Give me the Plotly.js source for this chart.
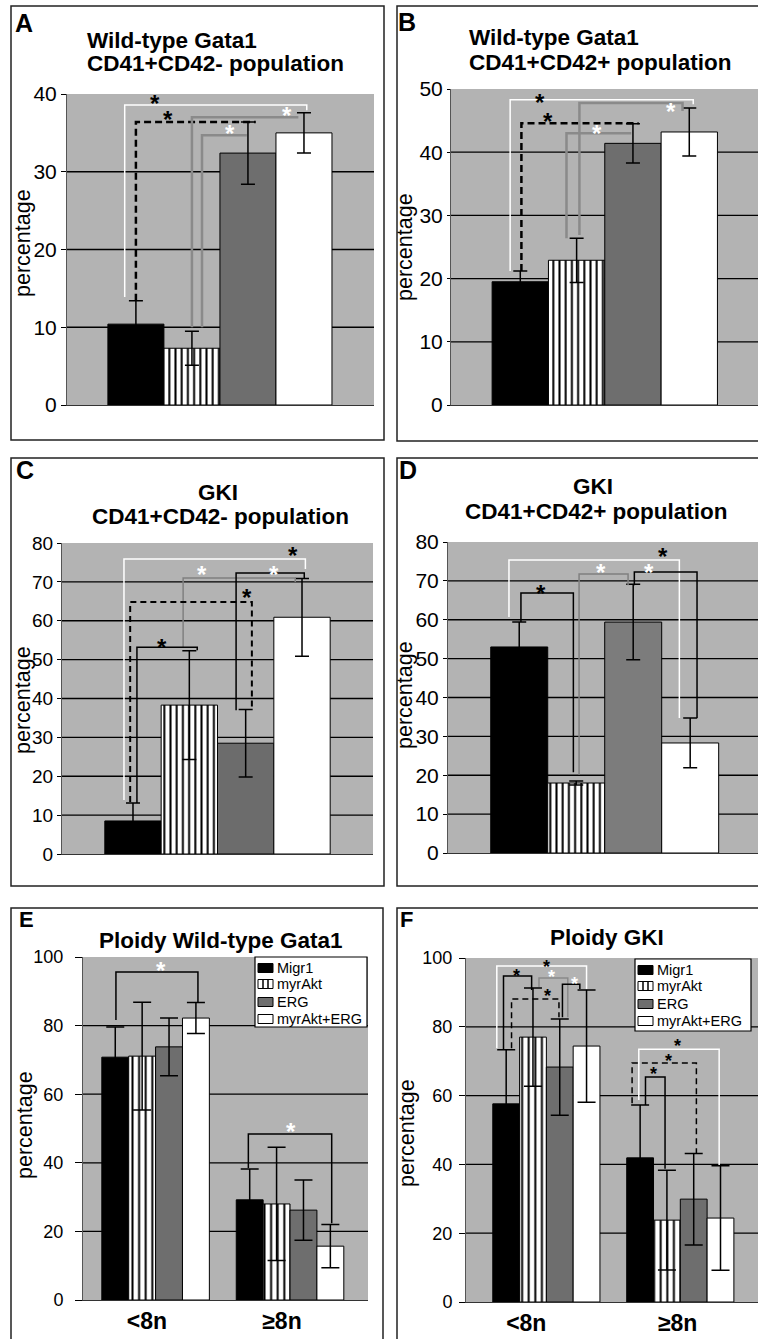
<!DOCTYPE html>
<html><head><meta charset="utf-8">
<script src="https://cdn.plot.ly/plotly-3.0.1.min.js"></script>
<style>html,body{margin:0;padding:0;background:#fff}#chart{width:758px;height:1339px}</style>
</head><body><div id="chart"></div>
<script>
const W = 758, H = 1339;

// ---------- data ----------
const categories = ['Migr1', 'myrAkt', 'ERG', 'myrAkt+ERG'];
const ploidyClasses = ['<8n', '≥8n'];

const wtNegValues = [10.4, 7.3, 32.4, 35.0];
const wtNegErrors = [3.0, 2.2, 4.0, 2.6];
const wtPosValues = [19.5, 22.9, 41.4, 43.2];
const wtPosErrors = [1.7, 3.5, 3.1, 3.8];
const gkiNegValues = [8.5, 38.3, 28.5, 60.9];
const gkiNegErrors = [4.6, 14.0, 8.7, 10.0];
const gkiPosValues = [53.0, 18.0, 59.4, 28.3];
const gkiPosErrors = [6.4, 0.5, 9.7, 6.4];

// ploidy, one row per series: [<8n, ≥8n]
const wtPloidyValues = [[70.8, 29.2], [71.1, 28.0], [73.8, 26.2], [82.2, 15.7]];
const wtPloidyErrors = [[8.8, 9.0], [15.7, 16.5], [8.4, 8.8], [4.5, 6.3]];
const gkiPloidyValues = [[57.6, 41.9], [77.0, 23.8], [68.3, 29.9], [74.4, 24.4]];
const gkiPloidyErrors = [[15.7, 15.4], [14.3, 14.5], [14.0, 13.3], [16.3, 15.2]];

// ---------- styles ----------
const patterns = ['', '|', '', ''];
function fillsFor(gray) { return ['#000000', '#ffffff', gray, '#ffffff']; }
const FONT = 'Liberation Sans, Arial, Helvetica, sans-serif';

const px = v => v / W;
const py = v => 1 - v / H;
const axn = (t, i) => i === 1 ? t : t + i;

const panels = [
  {ax: 1, x: [67, 374], y: [94, 405], xr: [-1.23, 4.25], ymax: 40, dtick: 10, tfs: 21, tlen: 5, tso: 0},
  {ax: 2, x: [451, 758], y: [89, 405], xr: [-1.23, 4.22], ymax: 50, dtick: 10, tfs: 21, tlen: 3, tso: 0},
  {ax: 3, x: [62, 373], y: [543, 854], xr: [-1.26, 4.26], ymax: 80, dtick: 10, tfs: 19, tlen: 4, tso: 0},
  {ax: 4, x: [448, 758], y: [542, 853], xr: [-1.25, 4.19], ymax: 80, dtick: 10, tfs: 21, tlen: 4, tso: 0},
  {ax: 5, x: [83, 368], y: [957, 1300], xr: [-0.54, 1.58], ymax: 100, dtick: 20, tfs: 18, tlen: 7, tso: 8},
  {ax: 6, x: [466, 758], y: [958, 1302], xr: [-0.60, 1.58], ymax: 100, dtick: 20, tfs: 18, tlen: 6, tso: 3}
];

const traces = [];
// panels A-D: one bar per construct, each drawn as its own trace so the stripe pattern is a plain value
function singlePanel(vals, errs, ax, gray) {
  const fills = fillsFor(gray);
  categories.forEach((c, i) => {
    traces.push({
      type: 'bar', name: c, x: [i], y: [vals[i]], width: 1, offset: -0.5,
      xaxis: axn('x', ax), yaxis: axn('y', ax), hoverinfo: 'skip', showlegend: false,
      marker: {color: fills[i], line: {color: '#000', width: 1},
        pattern: {shape: patterns[i], fgcolor: '#000', bgcolor: '#fff', size: 6.2, solidity: 0.32}},
      error_y: {type: 'data', array: [errs[i]], visible: true, color: '#000', thickness: 1.5, width: 7}
    });
  });
}
singlePanel(wtNegValues, wtNegErrors, 1, '#6e6e6e');
singlePanel(wtPosValues, wtPosErrors, 2, '#6e6e6e');
singlePanel(gkiNegValues, gkiNegErrors, 3, '#6c6c6c');
singlePanel(gkiPosValues, gkiPosErrors, 4, '#7c7c7c');

function ploidyTraces(vals, errs, ax) {
  const fills = fillsFor('#6e6e6e');
  categories.forEach((c, s) => {
    traces.push({
      type: 'bar', name: c, x: ploidyClasses.map((p, i) => i), y: vals[s],
      xaxis: axn('x', ax), yaxis: axn('y', ax), hoverinfo: 'skip', showlegend: false,
      marker: {color: fills[s], line: {color: '#000', width: 1},
        pattern: {shape: patterns[s], fgcolor: '#000', bgcolor: '#fff', size: 6.6, solidity: 0.3}},
      error_y: {type: 'data', array: errs[s], visible: true, color: '#000', thickness: 1.5, width: 9}
    });
  });
}
ploidyTraces(wtPloidyValues, wtPloidyErrors, 5);
ploidyTraces(gkiPloidyValues, gkiPloidyErrors, 6);

const layout = {
  width: W, height: H, margin: {l: 0, r: 0, t: 0, b: 0},
  paper_bgcolor: '#ffffff', plot_bgcolor: '#b3b3b3',
  barmode: 'group', bargap: 0.2, bargroupgap: 0, showlegend: false,
  font: {family: FONT, color: '#000'},
  shapes: [], annotations: []
};

const ploidyTickShift = {5: [-0.065, -0.06], 6: [-0.15, -0.02]};

panels.forEach(p => {
  const xa = {
    domain: [px(p.x[0]), px(p.x[1])], range: p.xr, anchor: axn('y', p.ax),
    showgrid: false, zeroline: false, showline: true, linecolor: '#333', linewidth: 1,
    fixedrange: true
  };
  if (p.ax >= 5) {
    const sh = ploidyTickShift[p.ax];
    xa.tickmode = 'array';
    xa.tickvals = ploidyClasses.map((c, i) => i + sh[i]);
    xa.ticktext = ploidyClasses;
    xa.ticks = '';
    xa.tickfont = {size: 23, weight: 'bold', family: FONT, color: '#000'};
    xa.ticklabelstandoff = 0;
  } else {
    xa.showticklabels = false; xa.ticks = '';
  }
  const ya = {
    domain: [py(p.y[1]), py(p.y[0])], range: [0, p.ymax], anchor: axn('x', p.ax),
    tick0: 0, dtick: p.dtick, ticks: 'outside', ticklen: p.tlen, tickwidth: 1, tickcolor: '#000',
    tickfont: {size: p.tfs, family: FONT, color: '#000'}, ticklabelstandoff: p.tso,
    showgrid: false, zeroline: false, showline: true, linecolor: '#555', linewidth: 1, fixedrange: true
  };
  layout[axn('xaxis', p.ax)] = xa;
  layout[axn('yaxis', p.ax)] = ya;
  // horizontal grid lines (behind bars)
  for (let v = p.dtick; v < p.ymax - 1e-9; v += p.dtick) {
    layout.shapes.push({type: 'line', layer: 'below', xref: axn('x', p.ax) + ' domain', yref: axn('y', p.ax),
      x0: 0, x1: 1, y0: v, y1: v, line: {color: '#000', width: 1.3}});
  }
});

// ---------- significance brackets [xL, yL, yTop, xR, yR, color, width, dash] ----------
const brackets = {
  1: [[-0.20, 13.9, 38.6, 3.05, 37.9, '#ffffff', 1.5, 'solid'],
      [0.0, 13.4, 36.4, 2.14, 36.4, '#000000', 2.5, '7px,4px'],
      [1.0, 10.0, 37.0, 2.9, 37.0, '#8a8a8a', 2.5, 'solid'],
      [1.18, 10.0, 34.7, 1.98, 34.7, '#8a8a8a', 2.5, 'solid']],
  2: [[-0.18, 21.2, 48.3, 3.07, 47.6, '#ffffff', 1.5, 'solid'],
      [0.02, 21.2, 44.6, 2.1, 44.6, '#000000', 2.5, '7px,4px'],
      [1.05, 26.9, 47.8, 2.88, 46.5, '#8a8a8a', 2.5, 'solid'],
      [0.82, 26.4, 43.0, 1.97, 43.0, '#8a8a8a', 2.5, 'solid']],
  3: [[-0.16, 13.9, 75.9, 3.06, 73.3, '#ffffff', 1.5, 'solid'],
      [0.89, 53.0, 71.0, 2.88, 70.0, '#808080', 1.5, 'solid'],
      [1.83, 37.0, 72.3, 3.04, 70.9, '#000000', 1.5, 'solid'],
      [-0.05, 13.4, 64.8, 2.11, 37.6, '#000000', 2, '6px,4px'],
      [0.07, 13.1, 53.2, 1.14, 52.4, '#000000', 1.5, 'solid']],
  4: [[0.03, 59.4, 66.9, 0.95, 20.8, '#000000', 1.5, 'solid'],
      [-0.18, 60.7, 75.4, 2.81, 34.7, '#ffffff', 1.5, 'solid'],
      [1.05, 20.1, 71.8, 1.91, 68.9, '#808080', 1.5, 'solid'],
      [2.02, 68.9, 72.3, 3.12, 34.7, '#000000', 1.5, 'solid']],
  5: [[-0.295, 81.6, 95.6, 0.315, 86.9, '#000000', 1.5, 'solid'],
      [0.69, 38.5, 48.4, 1.31, 22.4, '#000000', 1.5, 'solid']],
  6: [[-0.37, 73.8, 97.7, 0.30, 91.0, '#ffffff', 1.5, 'solid'],
      [-0.32, 73.3, 94.8, -0.11, 90.7, '#000000', 1.5, 'solid'],
      [-0.055, 91.6, 94.2, 0.16, 82.8, '#8a8a8a', 1.5, 'solid'],
      [0.12, 82.8, 92.4, 0.25, 91.0, '#000000', 1.5, 'solid'],
      [-0.26, 73.8, 88.1, 0.094, 82.8, '#000000', 1.5, '6px,4px'],
      [0.74, 57.3, 65.4, 0.886, 38.7, '#000000', 1.5, 'solid'],
      [0.64, 57.8, 69.5, 1.12, 43.3, '#000000', 1.5, '6px,4px'],
      [0.69, 58.7, 73.5, 1.29, 39.8, '#ffffff', 1.5, 'solid']]
};
const stars = {
  1: [[0.34, 39.4, '#000'], [0.57, 37.4, '#000'], [2.7, 37.9, '#fff'], [1.68, 35.6, '#fff']],
  2: [[0.35, 48.7, '#000'], [0.5, 45.7, '#000'], [2.68, 47.3, '#fff'], [1.36, 43.8, '#fff']],
  3: [[1.23, 73.3, '#fff'], [2.5, 73.3, '#fff'], [2.84, 78.2, '#000'], [2.02, 67.4, '#000'], [0.52, 54.5, '#000']],
  4: [[0.38, 68.2, '#000'], [2.53, 77.7, '#000'], [1.44, 73.6, '#fff'], [2.28, 73.6, '#fff']],
  5: [[0.04, 97.7, '#fff'], [1.01, 50.7, '#fff']],
  6: [[0.0, 98.5, '#000'], [-0.22, 95.9, '#000'], [0.04, 95.6, '#fff'], [0.21, 93.6, '#fff'], [0.01, 90.1, '#000'],
      [0.80, 67.4, '#000'], [0.91, 71.2, '#000'], [0.98, 75.6, '#000']]
};
Object.keys(brackets).forEach(k => {
  const ax = +k;
  brackets[k].forEach(b => {
    layout.shapes.push({type: 'path', layer: 'above', xref: axn('x', ax), yref: axn('y', ax),
      path: `M${b[0]},${b[1]}V${b[2]}H${b[3]}V${b[4]}`, fillcolor: 'rgba(0,0,0,0)',
      line: {color: b[5], width: b[6], dash: b[7]}});
  });
});
Object.keys(stars).forEach(k => {
  const ax = +k, size = ax === 6 ? 18 : 24;
  stars[k].forEach(s => {
    layout.annotations.push({xref: axn('x', ax), yref: axn('y', ax), x: s[0], y: s[1], text: '*',
      showarrow: false, yshift: -0.22 * size, font: {size: size, color: s[2], weight: 'bold', family: FONT}});
  });
});

// ---------- panel frames ----------
[[11, 6, 384, 440], [397, 6, 762, 441], [11, 458, 384, 886], [397, 458, 762, 886], [11, 908, 383, 1342], [397, 908, 762, 1342]]
  .forEach(r => layout.shapes.push({type: 'rect', layer: 'above', xref: 'paper', yref: 'paper',
    x0: px(r[0]), x1: px(r[2]), y0: py(r[3]), y1: py(r[1]), line: {color: '#222', width: 1.5}, fillcolor: 'rgba(0,0,0,0)'}));

// ---------- texts ----------
function txt(t, x, y, opts) {
  layout.annotations.push(Object.assign({xref: 'paper', yref: 'paper', x: px(x), y: py(y), text: t, showarrow: false,
    xanchor: 'center', yanchor: 'middle', font: {size: 22.5, weight: 'bold', family: FONT, color: '#000'}}, opts || {}));
}
txt('Wild-type Gata1', 85, 40, {xanchor: 'left'});
txt('CD41+CD42- population', 85, 64, {xanchor: 'left'});
txt('Wild-type Gata1', 467, 38, {xanchor: 'left'});
txt('CD41+CD42+ population', 467, 62, {xanchor: 'left'});
txt('GKI', 218, 492);
txt('CD41+CD42- population', 220, 516);
txt('GKI', 593, 487);
txt('CD41+CD42+ population', 596, 511);
txt('Ploidy Wild-type Gata1', 221, 940);
txt('Ploidy GKI', 607, 938);

const letterFont = s => ({font: {size: s, weight: 'bold', family: FONT, color: '#000'}});
txt('A', 24, 23, letterFont(25));
txt('B', 407, 22, letterFont(25));
txt('C', 25, 470, letterFont(25));
txt('D', 408, 470, letterFont(25));
txt('E', 26, 919, letterFont(22));
txt('F', 406, 919, letterFont(22));

const yt = {textangle: -90, font: {size: 21.5, family: FONT, color: '#000'}};
txt('percentage', 23, 243, yt);
txt('percentage', 405, 247, yt);
txt('percentage', 23, 700, yt);
txt('percentage', 405, 695, yt);
txt('percentage', 25, 1125, yt);
txt('percentage', 407, 1133, yt);

// ---------- legends (E and F) ----------
function legendBox(bx0, by0, bx1, by1) {
  const fills = fillsFor('#6e6e6e');
  layout.shapes.push({type: 'rect', layer: 'above', xref: 'paper', yref: 'paper',
    x0: px(bx0), x1: px(bx1), y0: py(by1), y1: py(by0), line: {color: '#000', width: 1.2}, fillcolor: '#fff'});
  const rows = [11, 27, 45, 62];
  categories.forEach((c, i) => {
    const cy = by0 + rows[i];
    const sx0 = bx0 + 3, sx1 = bx0 + 18, sy0 = cy - 4.5, sy1 = cy + 4.5;
    layout.shapes.push({type: 'rect', layer: 'above', xref: 'paper', yref: 'paper',
      x0: px(sx0), x1: px(sx1), y0: py(sy1), y1: py(sy0), fillcolor: fills[i], line: {color: '#000', width: 1}});
    if (patterns[i] === '|') {
      [sx0 + 5, sx0 + 10].forEach(lx => layout.shapes.push({type: 'line', layer: 'above', xref: 'paper', yref: 'paper',
        x0: px(lx), x1: px(lx), y0: py(sy1), y1: py(sy0), line: {color: '#000', width: 1.5}}));
    }
    txt(c, bx0 + 20, cy, {xanchor: 'left', font: {size: 14.5, family: FONT, color: '#000'}});
  });
}
legendBox(255, 957, 367, 1027);
legendBox(635, 959, 751, 1031);

Plotly.newPlot('chart', traces, layout, {staticPlot: true, displayModeBar: false});
</script>
</body></html>
